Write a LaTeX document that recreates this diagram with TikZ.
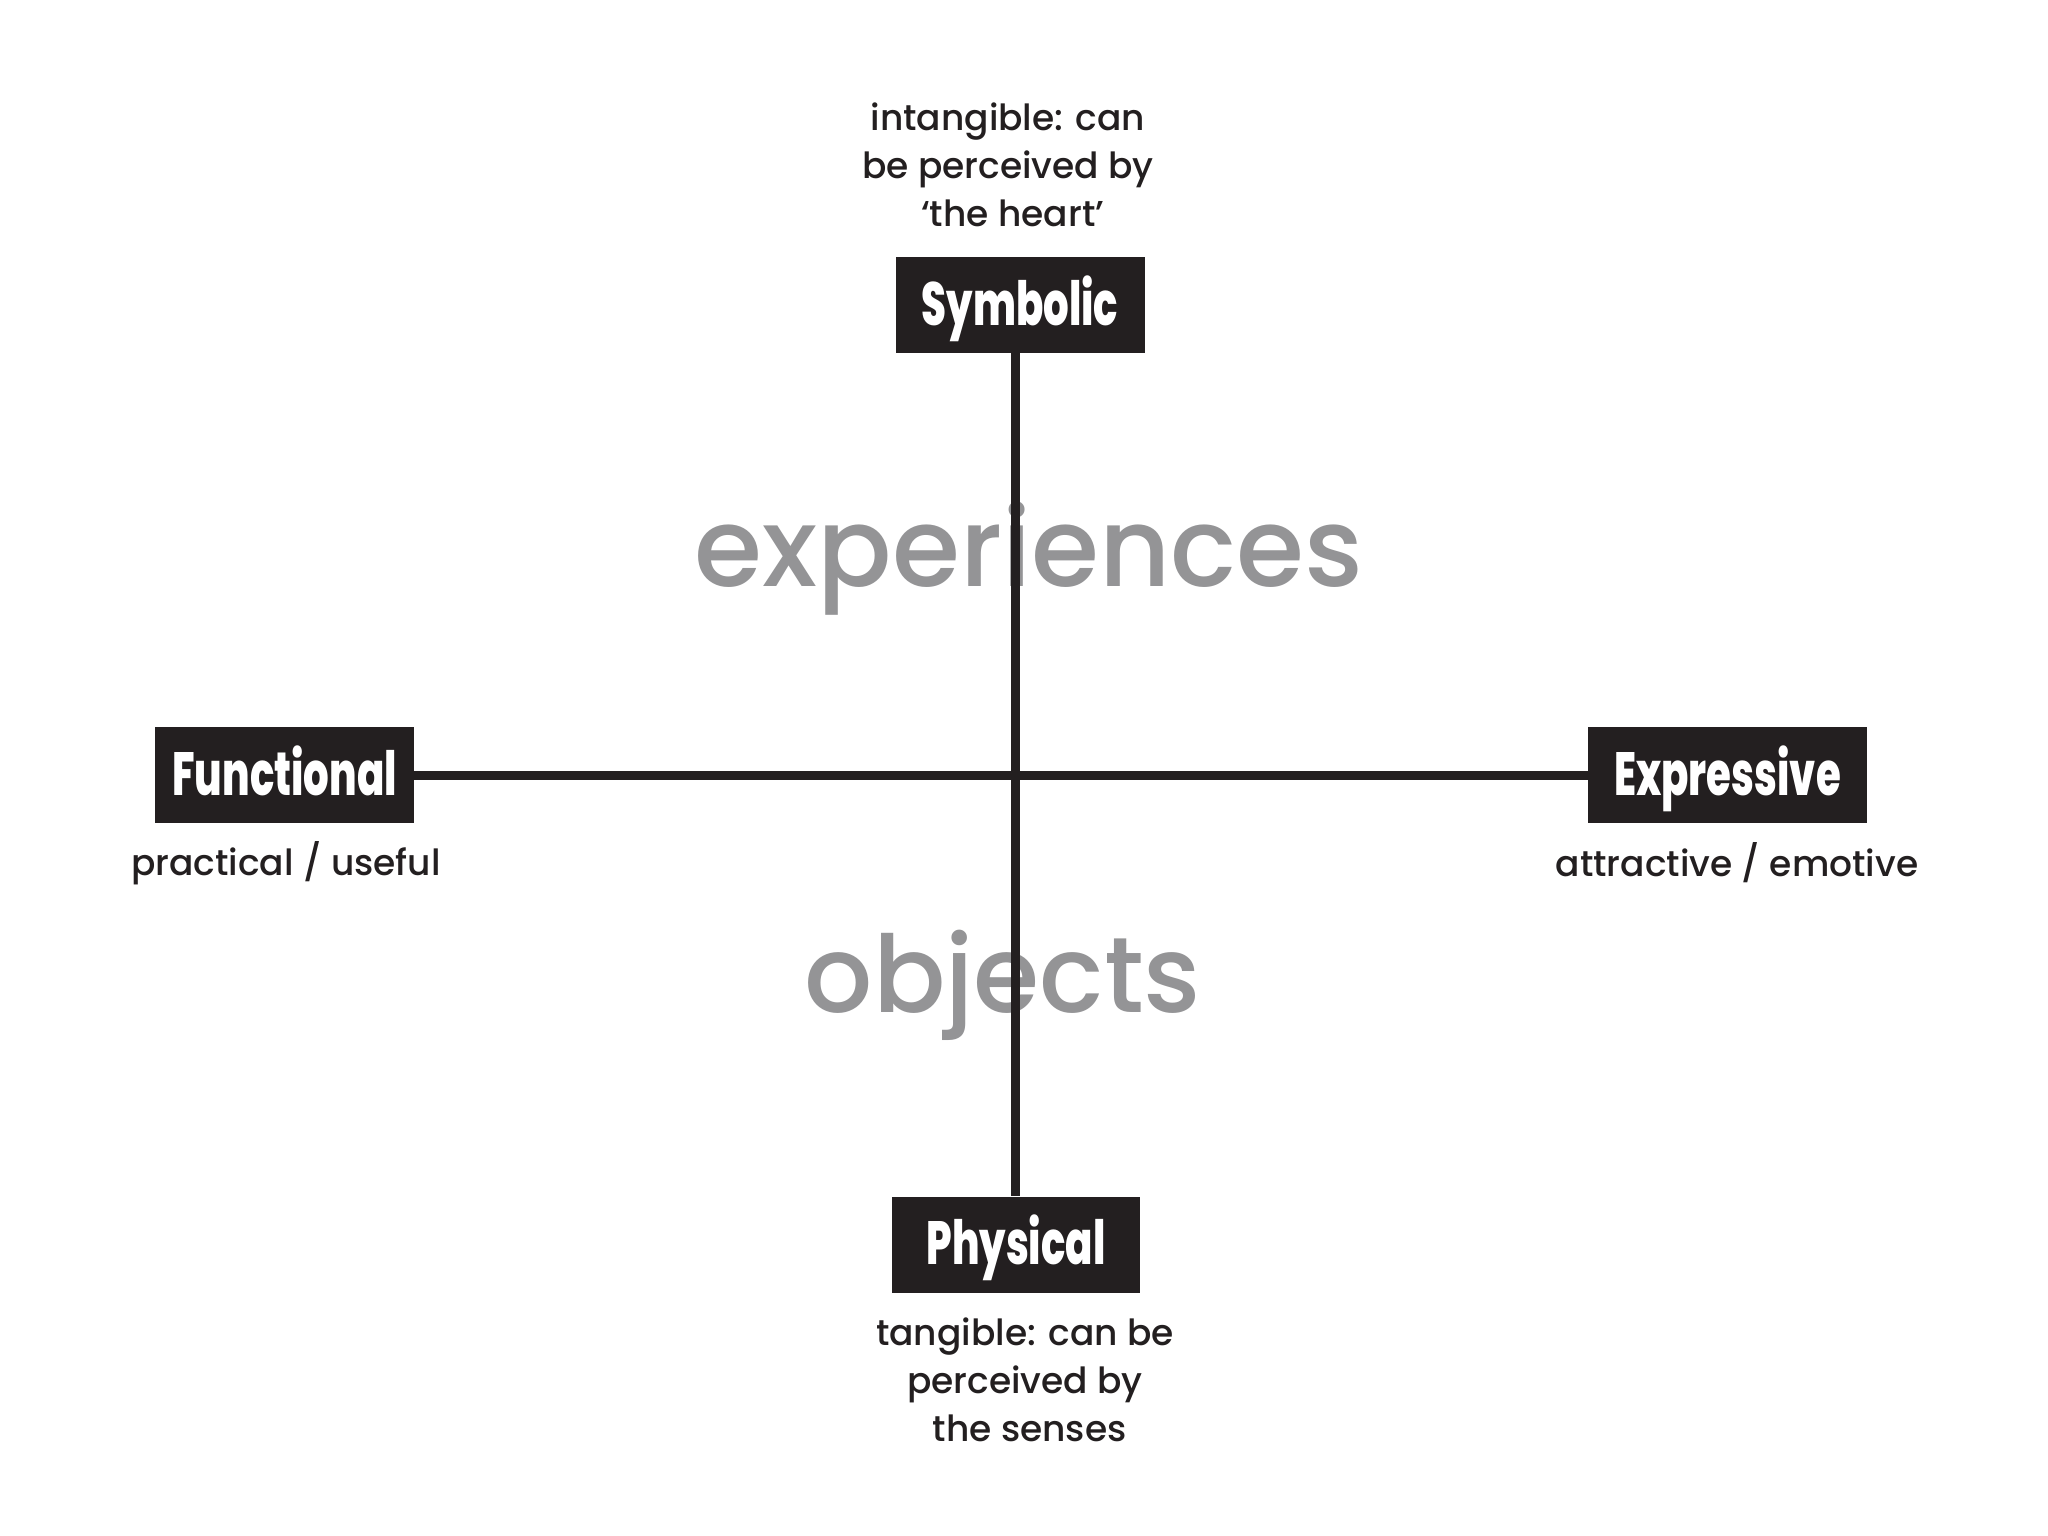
\documentclass[tikz,border=0pt]{standalone}
\usepackage{fontspec}
\setmainfont{Poppins Medium}
\newfontfamily\condfont{Poppins ExtraBold}[FakeStretch=0.66]
\definecolor{ink}{RGB}{35,31,32}
\definecolor{bigray}{RGB}{148,148,150}
\begin{document}
\begin{tikzpicture}[x=1pt,y=-1pt,
  catbox/.style={fill=ink,text=white,minimum height=96pt,inner sep=0pt,
    text height=47pt,text depth=7pt,
    font=\condfont\fontsize{61}{63}\selectfont},
  note/.style={text=ink,align=center,font=\fontsize{36}{48}\selectfont,inner sep=0pt},
  bigword/.style={text=bigray,inner sep=0pt,anchor=base},
  axis/.style={draw=ink,line width=9pt}]
\useasboundingbox (0,0) rectangle (2048,1536);
\fill[white] (0,0) rectangle (2048,1536);
% big gray words
\node[bigword,font=\fontsize{110}{112}\selectfont] (exp) at (1029,586) {experiences};
\node[bigword,font=\fontsize{107}{110}\selectfont] (obj) at (1003,1012) {objects};
% category boxes
\node[catbox,minimum width=249pt] (sym) at (1020,305) {Symbolic};
\node[catbox,minimum width=259pt] (fun) at (284.5,775) {Functional};
\node[catbox,minimum width=279pt] (expr) at (1727.5,775) {Expressive};
\node[catbox,minimum width=248pt] (phy) at (1016,1244.5) {Physical};
% axes
\coordinate (c) at (1015,775);
\draw[axis] (sym.south -| c) -- (phy.north -| c);
\draw[axis] (fun.east) -- (expr.west);
% notes
\node[note] (symn) at (1008,165) {intangible: can\\be perceived by\\\ ‘the heart’};
\node[note] (phyn) at (1025,1380) {tangible: can be\\perceived by\\\ the senses};
\node[note] (funn) at (286,863) {practical / useful};
\node[note] (exprn) at (1737,863) {attractive / emotive};
\end{tikzpicture}
\end{document}
